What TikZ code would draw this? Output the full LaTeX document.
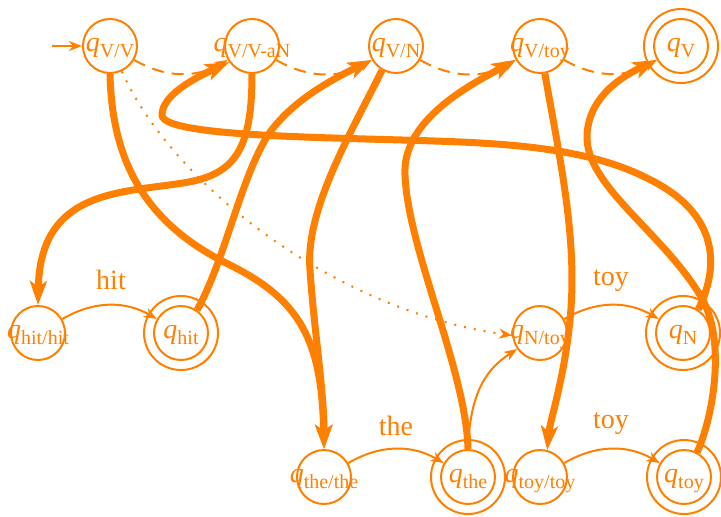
\documentclass[tikz,border=0pt]{standalone}
\usepackage{fontspec}
\setmainfont{Liberation Serif}
\usetikzlibrary{arrows.meta}
% state label: italic q with a lowered subscript, kept out of the node's size
\newcommand{\qst}[1]{\makebox[0pt]{\fontsize{28}{28}\selectfont\textit{q}\raisebox{-6pt}{\fontsize{20}{20}\selectfont #1}}}

\begin{document}
\begin{tikzpicture}[x=1pt,y=-1pt,
  st/.style={circle, draw=orange, line width=2pt, minimum size=54pt, inner sep=0pt,
             text=orange, text height=15pt, text depth=5pt},
  ring/.style={draw=orange, line width=2pt},
  thin/.style={draw=orange, line width=2pt, -{Stealth[length=13pt,width=10pt,inset=4pt]}},
  heavy/.style={draw=orange, line width=7pt, -{Stealth[length=24pt,width=17pt,inset=6pt]}},
  eps/.style={thin, dash pattern=on 12pt off 8pt},
  dots/.style={thin, dash pattern=on 2pt off 8pt},
  wlab/.style={text=orange, font=\fontsize{28}{28}\selectfont, anchor=base, inner sep=0pt},
]
\useasboundingbox (0,0) rectangle (721,517);

% states
\node[st] (vvv)    at (110,46)  {\qst{V/V}};
\node[st] (vvan)   at (252,46)  {\qst{V/V-aN}};
\node[st] (vn)     at (396,46)  {\qst{V/N}};
\node[st] (vtoy)   at (540,46)  {\qst{V/toy}};
\node[st] (vfin)   at (681,46)  {\qst{V}};
\node[st] (hithit) at (38,333)  {\qst{hit/hit}};
\node[st] (hit)    at (181,333) {\qst{hit}};
\node[st] (ntoy)   at (540,333) {\qst{N/toy}};
\node[st] (nfin)   at (683,333) {\qst{N}};
\node[st] (thethe) at (324,477) {\qst{the/the}};
\node[st] (the)    at (468,477) {\qst{the}};
\node[st] (toytoy) at (540,477) {\qst{toy/toy}};
\node[st] (toyfin) at (684,477) {\qst{toy}};

% final states get an outer ring
\foreach \n in {vfin,hit,nfin,the,toyfin}
  \draw[ring] (\n.center) circle[radius=37pt];

% initial arrow
\coordinate (start) at (52,46);
\draw[thin] (start) -- (vvv);

% epsilon chain along the top
\draw[eps] (vvv)  to[bend right=30] (vvan);
\draw[eps] (vvan) to[bend right=30] (vn);
\draw[eps] (vn)   to[bend right=30] (vtoy);
\draw[eps] (vtoy) to[bend right=30] (vfin);

% dotted shortcut
\draw[dots] (vvv.295) .. controls (170,180) and (330,310) .. (ntoy.185);

% word transitions
\draw[thin] (hithit) to[bend left=30] (hit);
\node[wlab] (lhit) at (111,289) {hit};
\draw[thin] (thethe) to[bend left=30] (the);
\node[wlab] (lthe) at (396,435) {the};
\draw[thin] (toytoy) to[bend left=30] (toyfin);
\node[wlab] (ltoy) at (611,428) {toy};
\draw[thin] (ntoy) to[bend left=30] (nfin);
\node[wlab] (ltoyn) at (611,285) {toy};
\draw[thin] (the.north) .. controls (470,390) and (488,368) .. (ntoy.215);

% heavy connections
\draw[heavy] (vvv.south) .. controls (112,165) and (148,225) .. (230,265)
             .. controls (300,300) and (322,340) .. (thethe.north);
\draw[heavy] (vvan.south) .. controls (252,150) and (235,175) .. (183,183)
             .. controls (120,193) and (40,190) .. (hithit.north);
\draw[heavy] (hit.55) .. controls (225,260) and (240,180) .. (268,135)
             .. controls (292,100) and (335,78) .. (vn.210);
\draw[heavy] (vn.240) .. controls (350,135) and (305,210) .. (310,270)
             .. controls (314,330) and (324,390) .. (thethe.north);
\draw[heavy] (the.north) .. controls (466,370) and (408,250) .. (405,175)
             .. controls (402,120) and (470,85) .. (vtoy.210);
\draw[heavy] (vtoy.280) .. controls (560,160) and (578,240) .. (570,320)
             .. controls (564,380) and (550,420) .. (toytoy.75);
\draw[heavy] (toyfin.62) .. controls (712,420) and (728,340) .. (700,295)
             .. controls (660,230) and (585,185) .. (587,135)
             .. controls (589,95) and (625,75) .. (vfin.210);
\draw[heavy] (nfin.57) .. controls (718,270) and (720,220) .. (660,185)
             .. controls (620,162) and (570,148) .. (480,143)
             .. controls (380,137) and (162,140) .. (162,115)
             .. controls (162,95) and (195,78) .. (vvan.215);
\end{tikzpicture}
\end{document}
